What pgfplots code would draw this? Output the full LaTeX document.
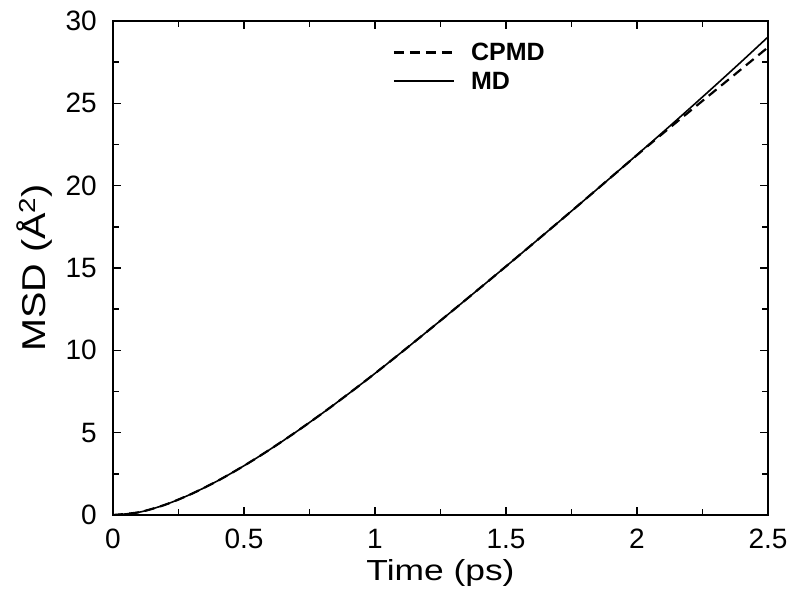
\documentclass[border=0pt]{standalone}
\usepackage{fontspec}
\setmainfont{Liberation Sans}
\usepackage{graphicx}
\usepackage{pgfplots}
\pgfplotsset{compat=1.18}
\begin{document}
\begin{tikzpicture}
\begin{axis}[
  at={(0pt,0pt)}, anchor=origin,
  scale only axis, width=655pt, height=494pt,
  xmin=0, xmax=2.5, ymin=0, ymax=30,
  xtick={0,0.5,...,2.5}, ytick={0,5,...,30},
  minor x tick num=1, minor y tick num=1,
  tick align=inside, tickpos=both,
  major tick length=8pt, minor tick length=6pt,
  axis line style={line width=1.6pt},
  every tick/.style={line width=1.6pt, black},
  /pgf/number format/assume math mode=true,
  tick label style={font=\fontsize{28}{32}\selectfont},
  xticklabel style={anchor=base, inner sep=0pt, yshift=-33pt},
  yticklabel style={anchor=east, inner sep=0pt, xshift=-16pt},
  xlabel={\scalebox{1.22}[1]{Time (ps)}}, ylabel={\scalebox{1.2}[1]{MSD (Å\textsuperscript{2})}},
  xlabel style={font=\fontsize{29}{33}\selectfont, at={(axis description cs:0.5,-0.1316)}, anchor=base, inner sep=0pt},
  ylabel style={font=\fontsize{33}{37}\selectfont, at={(axis description cs:-0.1038,0.5)}, anchor=base, inner sep=0pt},
  legend style={draw=none, fill=none, at={(0.427,0.96)}, anchor=north west,
    font=\fontsize{25}{29}\selectfont\bfseries, inner sep=0pt,
    row sep=6pt},
  legend cell align=left,
  legend image code/.code={\draw[#1] (0pt,0pt) -- (60pt,0pt); \path (74pt,0pt);},
]
\addplot[black, line width=2.2pt, dash pattern=on 10pt off 6pt, smooth] coordinates {
(0,0) (0.1,0.17) (0.2,0.63) (0.3,1.285) (0.4,2.08) (0.5,2.99)
(0.6,3.99) (0.7,5.06) (0.8,6.19) (0.9,7.375) (1.0,8.6) (1.1,9.865) (1.2,11.155) (1.3,12.46) (1.4,13.775) (1.5,15.1)
(1.6,16.435) (1.7,17.78) (1.8,19.135) (1.9,20.5) (2.0,21.86) (2.1,23.19) (2.2,24.5) (2.3,25.8) (2.4,27.1) (2.5,28.4)
};
\addlegendentry{CPMD}
\addplot[black, line width=1.6pt, smooth] coordinates {
(0,0) (0.1,0.17) (0.2,0.63) (0.3,1.285) (0.4,2.08) (0.5,2.99)
(0.6,3.99) (0.7,5.06) (0.8,6.19) (0.9,7.375) (1.0,8.6) (1.1,9.865) (1.2,11.155) (1.3,12.46) (1.4,13.775) (1.5,15.1)
(1.6,16.435) (1.7,17.78) (1.8,19.135) (1.9,20.5) (2.0,21.875) (2.1,23.265) (2.2,24.675) (2.3,26.105) (2.4,27.555) (2.5,29.03)
};
\addlegendentry{MD}
\end{axis}
\path[use as bounding box] (-113pt,-77pt) rectangle (677pt,515pt);
\end{tikzpicture}
\end{document}
